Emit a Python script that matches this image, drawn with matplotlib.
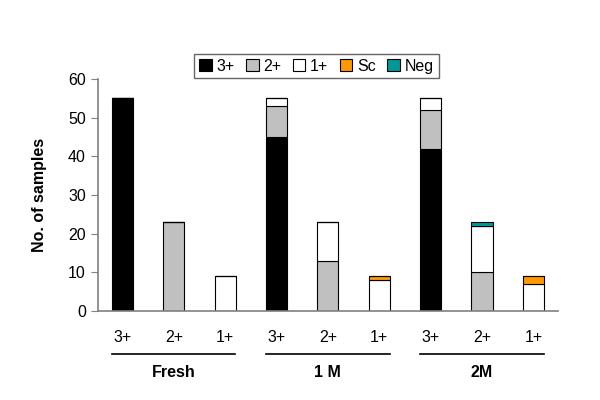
import matplotlib
matplotlib.use('Agg')
import matplotlib.pyplot as plt
import numpy as np

plt.rcParams['font.family'] = ['Liberation Sans', 'DejaVu Sans']

# Data: one bar per (group, grade), stacked by result category
groups = ['Fresh', '1 M', '2M']
bar_labels = ['3+', '2+', '1+', '3+', '2+', '1+', '3+', '2+', '1+']
series = ['3+', '2+', '1+', 'Sc', 'Neg']
v_3plus = [55, 0, 0, 45, 0, 0, 42, 0, 0]
v_2plus = [0, 23, 0, 8, 13, 0, 10, 10, 0]
v_1plus = [0, 0, 9, 2, 10, 8, 3, 12, 7]
v_sc = [0, 0, 0, 0, 0, 1, 0, 0, 2]
v_neg = [0, 0, 0, 0, 0, 0, 0, 1, 0]

colors = ['#000000', '#C0C0C0', '#FFFFFF', '#FF9900', '#009999']

fig = plt.figure(figsize=(6, 4), dpi=100)
ax = fig.add_axes([0.163, 0.2225, 0.767, 0.58])

x = np.arange(len(bar_labels))
bottom = np.zeros(len(x))
handles = []
for name, vals, c in zip(series, [v_3plus, v_2plus, v_1plus, v_sc, v_neg], colors):
    vals = np.array(vals, dtype=float)
    b = ax.bar(x, vals, width=0.41, bottom=bottom, color=c,
               edgecolor='black', linewidth=0.8, label=name)
    handles.append(b)
    bottom += vals

ax.set_xlim(-0.48, 8.48)
ax.set_ylim(0, 60)
ax.set_yticks(range(0, 61, 10))
ax.tick_params(axis='y', labelsize=11.5, length=5, color='#808080', direction='out')
ax.set_xticks(x)
ax.set_xticklabels(bar_labels, fontsize=11.5)
ax.tick_params(axis='x', length=0, pad=14)

for s in ['top', 'right']:
    ax.spines[s].set_visible(False)
for s in ['left', 'bottom']:
    ax.spines[s].set_color('#808080')
    ax.spines[s].set_linewidth(1.2)

ax.set_ylabel('No. of samples', fontsize=11.5, fontweight='bold', labelpad=15)

# group lines and labels under the tick labels
for i, g in enumerate(groups):
    x0, x1 = 3 * i - 0.2, 3 * i + 2.2
    ax.plot([x0, x1], [-11, -11], color='black', lw=1.2, clip_on=False)
    ax.text(3 * i + 1, -15.8, g, ha='center', va='center', fontsize=11.5,
            fontweight='bold')

leg = ax.legend(handles=handles, loc='upper center', bbox_to_anchor=(0.475, 1.143),
                ncol=5, frameon=True, fancybox=False, edgecolor='#404040',
                fontsize=11.5, handlelength=0.8, handleheight=0.8,
                handletextpad=0.3, columnspacing=0.7, borderpad=0.3)
leg.get_frame().set_linewidth(1.0)

fig.savefig('out.png', dpi=100)
